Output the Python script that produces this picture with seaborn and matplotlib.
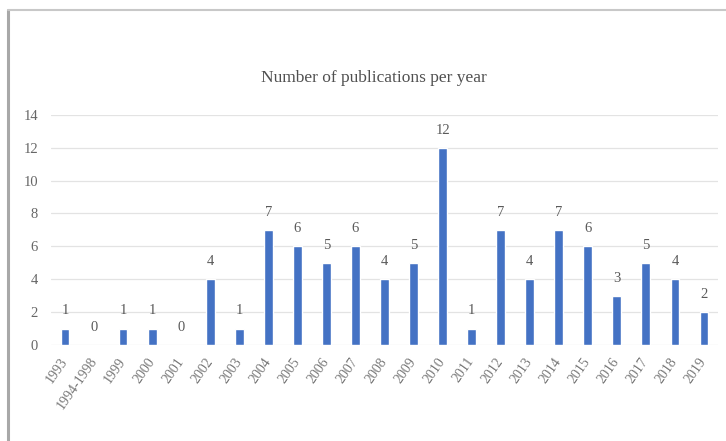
import matplotlib
matplotlib.use("Agg")
import matplotlib.pyplot as plt
import seaborn as sns
import pandas as pd
from matplotlib.lines import Line2D

categories = ["1993", "1994-1998", "1999", "2000", "2001", "2002", "2003", "2004",
              "2005", "2006", "2007", "2008", "2009", "2010", "2011", "2012",
              "2013", "2014", "2015", "2016", "2017", "2018", "2019"]
counts = [1, 0, 1, 1, 0, 4, 1, 7, 6, 5, 6, 4, 5, 12, 1, 7, 4, 7, 6, 3, 5, 4, 2]
yticks = [0, 2, 4, 6, 8, 10, 12, 14]
title = "Number of publications per year"

sns.set_theme(style="whitegrid")
plt.rcParams['font.family'] = ['Liberation Serif', 'DejaVu Serif']

fig = plt.figure(figsize=(7.26, 4.41), dpi=100)
ax = fig.add_axes([0.0696, 0.2177, 0.92, 0.522])

df = pd.DataFrame({"year": categories, "count": counts})
sns.barplot(data=df, x="year", y="count", color="#4472C4", saturation=1,
            width=0.3, ax=ax)

ax.set_ylim(0, 14)
ax.set_yticks(yticks)
ax.set_xlim(-0.5, len(categories) - 0.5)
ax.set_xlabel("")
ax.set_ylabel("")
ax.grid(axis="y", color="#e3e3e3", linewidth=0.9)
ax.grid(axis="x", visible=False)
for s in ax.spines.values():
    s.set_visible(False)
ax.set_facecolor("white")

ax.tick_params(axis="y", length=0, pad=9, labelsize=10.5, labelcolor="#666666")
ax.tick_params(axis="x", length=0, pad=10, labelsize=10, labelcolor="#777777")
for lab in ax.get_xticklabels():
    lab.set_rotation(55)
    lab.set_ha("right")
    lab.set_va("center")
    lab.set_rotation_mode("anchor")

ax.bar_label(ax.containers[0], padding=8, color="#5a5a5a", fontsize=10.5)

fig.text(0.515, 0.823, title, ha="center", va="center", fontsize=12.5, color="#505050")

# screenshot frame
fig.add_artist(Line2D([0.011, 0.011], [0.0, 0.978], transform=fig.transFigure,
                      color="#a8a8a8", linewidth=2.2))
fig.add_artist(Line2D([0.011, 1.0], [0.978, 0.978], transform=fig.transFigure,
                      color="#c8c8c8", linewidth=1.5))

fig.savefig("out.png", dpi=100, facecolor="white")
